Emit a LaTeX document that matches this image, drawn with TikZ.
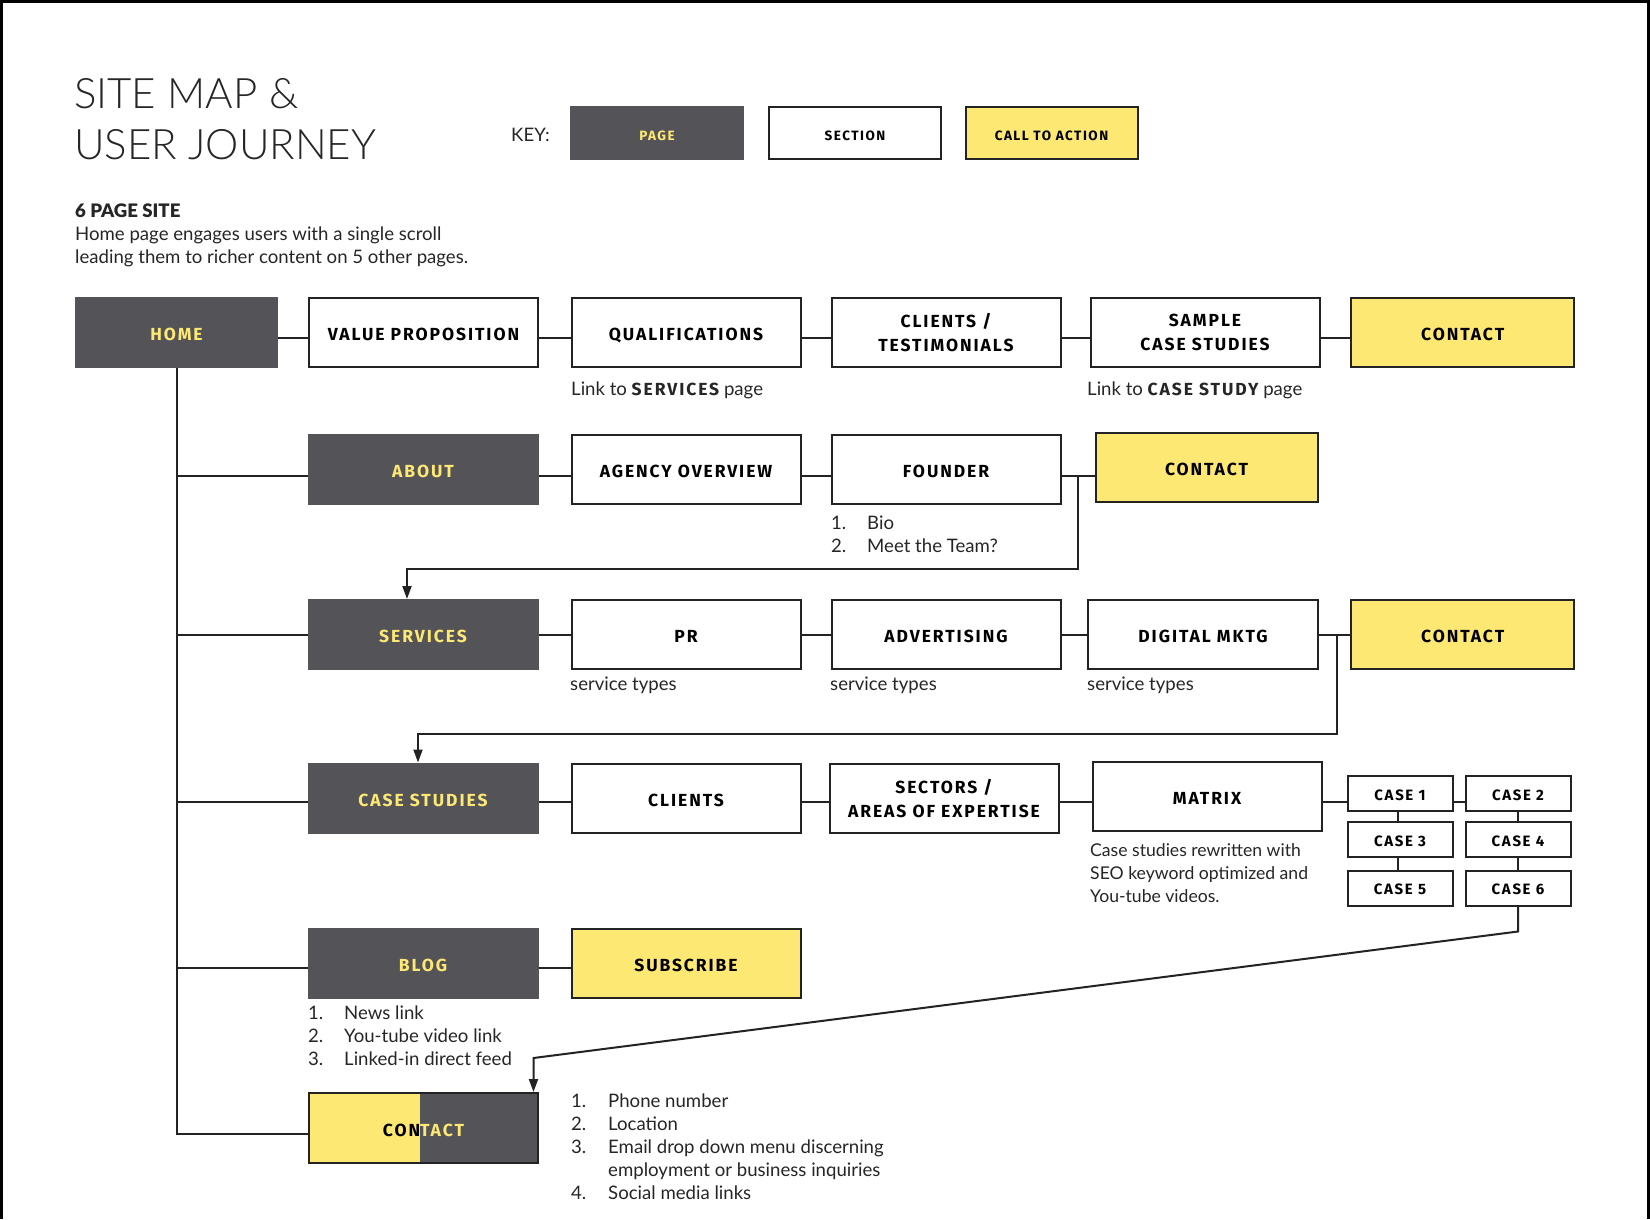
\documentclass[tikz,border=0pt]{standalone}
\usepackage{fontspec}
\setmainfont{Lato}
\newfontfamily\lightfont{Lato Light}
\newfontfamily\blackfont{Lato Black}
\newfontfamily\boxfont[LetterSpace=11.0]{Fira Sans}
\newcommand\bwfont{\boxfont\bfseries\fontsize{17.5}{18}\selectfont}
\usetikzlibrary{arrows.meta,calc}
\definecolor{darkg}{RGB}{84,83,88}
\definecolor{yel}{RGB}{253,232,116}
\definecolor{linec}{RGB}{35,35,35}
\begin{document}
\begin{tikzpicture}[x=1pt,y=-1pt,
  base/.style={rectangle, draw=linec, line width=2pt, inner sep=0pt, align=center,
    minimum width=229pt, minimum height=69pt, text height=16.5pt, text depth=0pt,
    font=\boxfont\bfseries\fontsize{17.5}{24}\selectfont},
  twoline/.style={text height=, text depth=},
  pagebox/.style={base, fill=darkg, draw=darkg, text=yel},
  secbox/.style={base, fill=white, text=black},
  ctabox/.style={base, fill=yel, text=black},
  casebox/.style={secbox, minimum width=105pt, minimum height=35pt, text height=13.5pt,
    font=\boxfont\bfseries\fontsize{15}{18}\selectfont},
  keybox/.style={base, minimum width=172pt, minimum height=52pt, text height=14pt,
    font=\boxfont\bfseries\fontsize{13.5}{14}\selectfont},
  conn/.style={draw=linec, line width=2pt},
  arr/.style={conn, -{Triangle[length=13pt,width=9pt]}},
  body/.style={inner sep=0pt, anchor=base west, font=\fontsize{18.6}{23}\selectfont, text=black!85}
]
\useasboundingbox (0,0) rectangle (1650,1219);
\fill[white] (0,0) rectangle (1650,1219);
% frame
\draw[line width=3pt, black] (1.5,1219) -- (1.5,1.5) -- (1648.5,1.5) -- (1648.5,1219);

% title
\node[body, font=\lightfont\fontsize{42}{50}\selectfont, text=black!85] (t1) at (74,108) {SITE MAP \&};
\node[body, font=\lightfont\fontsize{42}{50}\selectfont, text=black!85] (t2) at (74,159) {USER JOURNEY};
\node[body] (key) at (511,141) {KEY:};
\node[keybox, fill=darkg, draw=darkg, text=yel] (kpage) at (657,133) {PAGE};
\node[keybox, fill=white] (ksec) at (855,133) {SECTION};
\node[keybox, fill=yel] (kcta) at (1051.5,133) {CALL TO ACTION};

\node[body, font=\blackfont\fontsize{18.6}{23}\selectfont] (sub) at (75,217) {6 PAGE SITE};
\node[body] (d1) at (75,240) {Home page engages users with a single scroll};
\node[body] (d2) at (75,263) {leading them to richer content on 5 other pages.};

% row coordinates for connectors
\coordinate (r1) at (0,338);
\coordinate (r2) at (0,476);
\coordinate (r3) at (0,635);
\coordinate (r4) at (0,802);
\coordinate (r5) at (0,968);
\coordinate (r6) at (0,1134);

% row 1
\node[pagebox, minimum width=201pt] (home) at (176.5,332) {HOME};
\node[secbox] (vp) at (423.5,332.5) {VALUE PROPOSITION};
\node[secbox] (qual) at (686,332.5) {QUALIFICATIONS};
\node[secbox, twoline] (cli) at (946,332.5) {CLIENTS /\\TESTIMONIALS};
\node[secbox, twoline] (samp) at (1205,332.5) {SAMPLE\\CASE STUDIES};
\node[ctabox, minimum width=223pt] (cta1) at (1462.7,332.5) {CONTACT};
\node[body] (l1) at (571,395) {Link to {\bwfont SERVICES} page};
\node[body] (l2) at (1087,395) {Link to {\bwfont CASE STUDY} page};

% row 2
\node[pagebox] (about) at (423,469) {ABOUT};
\node[secbox] (agency) at (686,469) {AGENCY OVERVIEW};
\node[secbox] (founder) at (946,469) {FOUNDER};
\node[ctabox, minimum width=222pt] (cta2) at (1206.5,467) {CONTACT};
\node[body] (fl) at (831,529) {\begin{tabular}[t]{@{}p{36pt}@{}l@{}}1. & Bio\\ 2. & Meet the Team?\end{tabular}};

% row 3
\node[pagebox] (serv) at (423,634.5) {SERVICES};
\node[secbox] (pr) at (686,634.5) {PR};
\node[secbox] (adv) at (946,634.5) {ADVERTISING};
\node[secbox, minimum width=230pt] (dig) at (1203,634.5) {DIGITAL MKTG};
\node[ctabox, minimum width=223pt] (cta3) at (1462.7,634.5) {CONTACT};
\node[body] (s1) at (570,690) {service types};
\node[body] (s2) at (830,690) {service types};
\node[body] (s3) at (1087,690) {service types};

% row 4
\node[pagebox] (cs) at (423,798) {CASE STUDIES};
\node[secbox] (clients) at (686,798) {CLIENTS};
\node[secbox, twoline] (sect) at (944,798) {SECTORS /\\AREAS OF EXPERTISE};
\node[secbox] (matrix) at (1207,796.5) {MATRIX};
\node[casebox] (c1) at (1400,793.4) {CASE 1};
\node[casebox] (c2) at (1518,793.4) {CASE 2};
\node[casebox] (c3) at (1400,839.5) {CASE 3};
\node[casebox] (c4) at (1518,839.5) {CASE 4};
\node[casebox] (c5) at (1400,888) {CASE 5};
\node[casebox] (c6) at (1518,888) {CASE 6};
\node[body, font=\fontsize{17.6}{23}\selectfont] (mx) at (1090,856) {\begin{tabular}[t]{@{}l@{}}Case studies rewritten with\\ SEO keyword optimized and\\ You-tube videos.\end{tabular}};

% row 5
\node[pagebox] (blog) at (423,963.4) {BLOG};
\node[ctabox] (subs) at (686,963.4) {SUBSCRIBE};
\node[body] (bl) at (308,1019) {\begin{tabular}[t]{@{}p{36pt}@{}l@{}}1. & News link\\ 2. & You-tube video link\\ 3. & Linked-in direct feed\end{tabular}};

% row 6
\node[base, fill=darkg, minimum height=70pt, text=black,
  path picture={\fill[yel] (path picture bounding box.south west) rectangle ([xshift=-3.5pt]path picture bounding box.north);}]
  (cta6) at (423.5,1128) {CON\textcolor{yel}{TACT}};
\node[body] (cl) at (571,1107) {\begin{tabular}[t]{@{}p{37pt}@{}l@{}}1. & Phone number\\ 2. & Location\\ 3. & Email drop down menu discerning\\ & employment or business inquiries\\ 4. & Social media links\end{tabular}};

% connectors row 1
\draw[conn] (home.east|-r1) -- (vp.west|-r1);
\draw[conn] (vp.east|-r1) -- (qual.west|-r1);
\draw[conn] (qual.east|-r1) -- (cli.west|-r1);
\draw[conn] (cli.east|-r1) -- (samp.west|-r1);
\draw[conn] (samp.east|-r1) -- (cta1.west|-r1);
% home trunk
\draw[conn] (home.south) |- (cta6.west|-r6);
\draw[conn] (home.south|-r2) -- (about.west|-r2);
\draw[conn] (home.south|-r3) -- (serv.west|-r3);
\draw[conn] (home.south|-r4) -- (cs.west|-r4);
\draw[conn] (home.south|-r5) -- (blog.west|-r5);
% row 2
\draw[conn] (about.east|-r2) -- (agency.west|-r2);
\draw[conn] (agency.east|-r2) -- (founder.west|-r2);
\draw[conn] (founder.east|-r2) -- (cta2.west|-r2);
\coordinate (j2) at (1078,476);
\coordinate (j2b) at (1078,569);
\draw[arr] (j2) -- (j2b) -| ([xshift=-16pt]serv.north);
% row 3
\draw[conn] (serv.east|-r3) -- (pr.west|-r3);
\draw[conn] (pr.east|-r3) -- (adv.west|-r3);
\draw[conn] (adv.east|-r3) -- (dig.west|-r3);
\draw[conn] (dig.east|-r3) -- (cta3.west|-r3);
\coordinate (j3) at (1336.5,635);
\coordinate (j3b) at (1336.5,733.5);
\draw[arr] (j3) -- (j3b) -| ([xshift=-5pt]cs.north);
% row 4
\draw[conn] (cs.east|-r4) -- (clients.west|-r4);
\draw[conn] (clients.east|-r4) -- (sect.west|-r4);
\draw[conn] (sect.east|-r4) -- (matrix.west|-r4);
\draw[conn] (matrix.east|-r4) -- (c1.west|-r4);
\draw[conn] (c1.east|-r4) -- (c2.west|-r4);
\draw[conn] ([xshift=-2pt]c1.south) -- ([xshift=-2pt]c3.north);
\draw[conn] ([xshift=-2pt]c3.south) -- ([xshift=-2pt]c5.north);
\draw[conn] (c2.south) -- (c4.north);
\draw[conn] (c4.south) -- (c6.north);
\coordinate (j6) at (1518,931.5);
\coordinate (j6b) at (533.5,1058);
\draw[arr] (c6.south) -- (j6) -- (j6b) -- (j6b|-cta6.north);
% row 5
\draw[conn] (blog.east|-r5) -- (subs.west|-r5);
\end{tikzpicture}
\end{document}
